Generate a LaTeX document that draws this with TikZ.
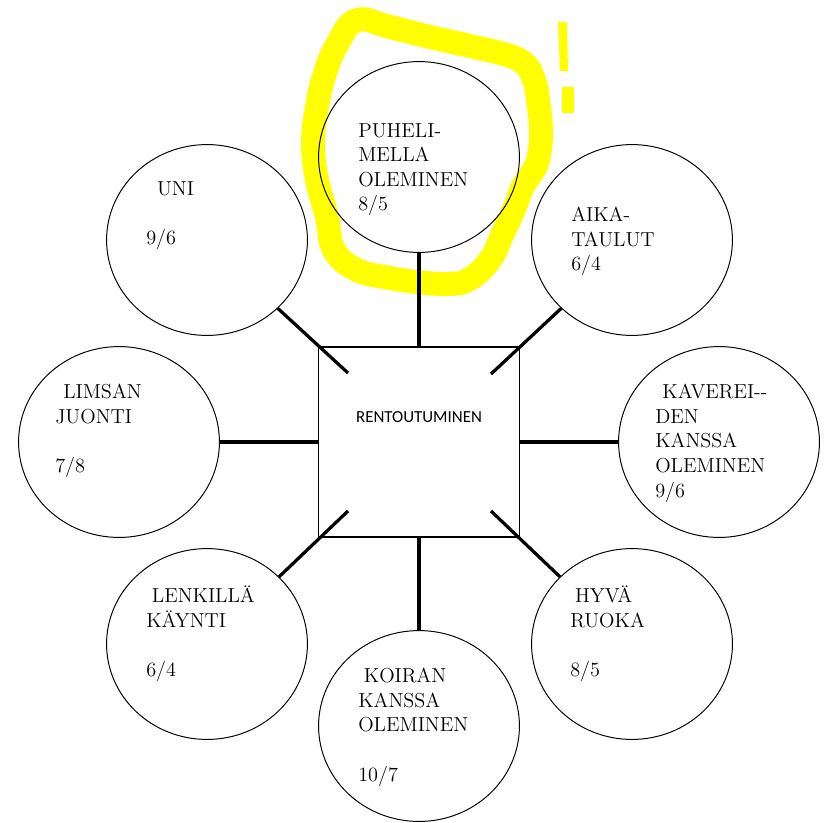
\documentclass[tikz,border=0pt]{standalone}
\usepackage{fontspec}
\newfontfamily\boxfont{Carlito}
\usetikzlibrary{shapes.geometric}
\definecolor{marker}{RGB}{255,255,0}
\tikzset{
  topic circle/.style={draw=black,line width=0.7pt,ellipse,inner sep=0pt,minimum width=5.02cm,minimum height=4.77cm},
  centre box/.style={draw=black,line width=1.2pt,rectangle,inner sep=0pt,minimum width=5.02cm,minimum height=4.75cm},
  topic text/.style={anchor=north west,inner sep=0pt,align=left,font=\rmfamily\fontsize{14.4}{17.5}\selectfont,execute at begin node=\strut},
  link line/.style={draw=black,line width=2.3pt},
  marker pen/.style={draw=marker,line width=17pt,line join=round,line cap=round}
}

\begin{document}
\begin{tikzpicture}[x=0.025cm,y=-0.025cm]
  \useasboundingbox (0,0) rectangle (828,822);

  \draw[marker pen] plot[smooth cycle,tension=0.7] coordinates {
    (357,20) (390,27) (430,37) (470,46) (507,55) (525,64) (534,80)
    (538,100) (541,133) (538,160) (531,174) (522,188) (515,207)
    (503,233) (490,260) (468,280) (447,284) (418,282) (390,278)
    (357,270) (334,250) (327,217) (317,180) (313,143) (317,107)
    (325,73) (338,43)};
  \fill[marker] (558,22) -- (567,22) -- (568,71) -- (560,71) -- cycle;
  \fill[marker] (562,87) rectangle (574,113);

  \node[centre box] (centre) at (419,442) {};
  \node[font=\boxfont\fontsize{12}{14}\selectfont,inner sep=0pt] (centretext) at (419,417) {RENTOUTUMINEN};

  \node[topic circle] (phone) at (419,157) {};
  \node[topic circle] (sleep) at (207,240) {};
  \node[topic circle] (timetable) at (632,240) {};
  \node[topic circle] (soda) at (119,442) {};
  \node[topic circle] (friends) at (719,442) {};
  \node[topic circle] (running) at (207,644) {};
  \node[topic circle] (food) at (632,644) {};
  \node[topic circle] (dog) at (419,726) {};

  \coordinate (innerNW) at (348,373);
  \coordinate (innerNE) at (491,374);
  \coordinate (innerSW) at (348,511);
  \coordinate (innerSE) at (491,511);

  \draw[link line] (phone.south) -- (centre.north);
  \draw[link line] (sleep.-44) -- (innerNW);
  \draw[link line] (timetable.-136) -- (innerNE);
  \draw[link line] (soda.east) -- (centre.west);
  \draw[link line] (friends.west) -- (centre.east);
  \draw[link line] (running.43) -- (innerSW);
  \draw[link line] (food.137) -- (innerSE);
  \draw[link line] (dog.north) -- (centre.south);

  \node[topic text] (phonetext) at (358,123) {PUHELI-\\MELLA\\OLEMINEN\\8/5};
  \node[topic text] (sleeptext) at (146,181) {\hspace*{0.27cm}UNI\\[17.5pt]9/6};
  \node[topic text] (timetabletext) at (571,207) {AIKA-\\TAULUT\\6/4};
  \node[topic text] (sodatext) at (55,384) {\hspace*{0.2cm}LIMSAN\\JUONTI\\[17.5pt]7/8};
  \node[topic text] (friendstext) at (655,384) {\hspace*{0.18cm}KAVEREI-{}-\\DEN\\KANSSA\\OLEMINEN\\9/6};
  \node[topic text] (runningtext) at (146,586) {\hspace*{0.14cm}LENKILLÄ\\KÄYNTI\\[17.5pt]6/4};
  \node[topic text] (foodtext) at (570,586) {\hspace*{0.12cm}HYVÄ\\RUOKA\\[17.5pt]8/5};
  \node[topic text] (dogtext) at (358,668) {\hspace*{0.14cm}KOIRAN\\KANSSA\\OLEMINEN\\[17.5pt]10/7};
\end{tikzpicture}
\end{document}
